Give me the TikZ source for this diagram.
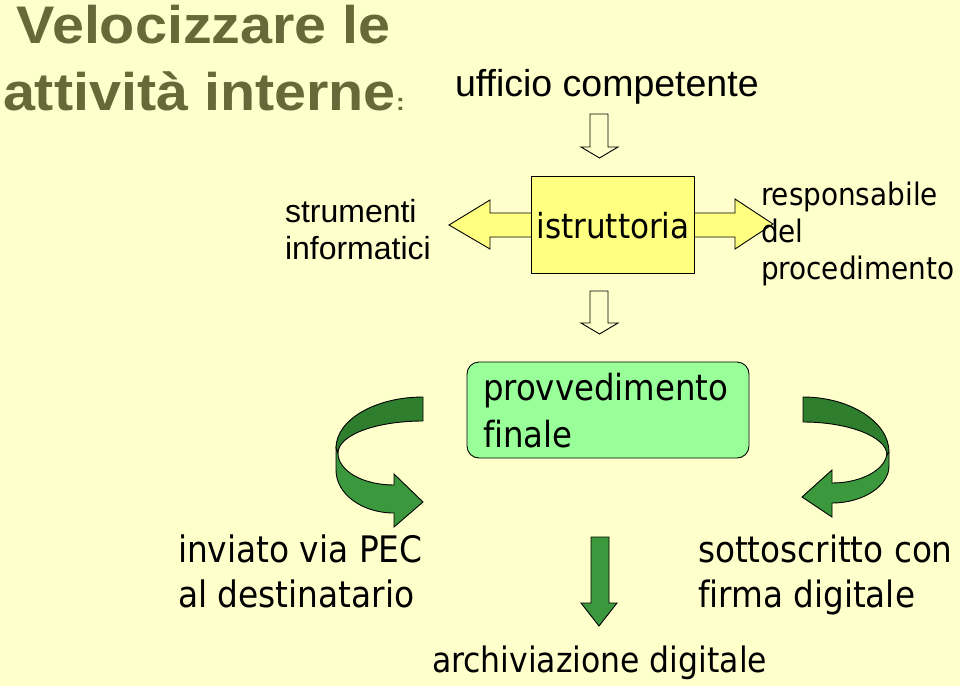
\documentclass[tikz,border=0pt]{standalone}
\usepackage{fontspec}
\setmainfont{Liberation Sans}
\newfontfamily\tah[Ligatures=NoCommon]{DejaVu Sans Condensed}
\definecolor{bg}{RGB}{255,255,204}
\definecolor{titlecol}{RGB}{104,104,56}
\definecolor{boxyellow}{RGB}{255,255,128}
\definecolor{boxgreen}{RGB}{153,255,153}
\definecolor{darkgr}{RGB}{46,126,46}
\definecolor{lightgr}{RGB}{60,152,60}
\newcommand\lns[2][l]{\begin{tabular}[t]{@{}#1@{}}#2\end{tabular}}
\tikzset{
  txt/.style={inner sep=0pt, outer sep=0pt, anchor=base west, text=black},
  hollow/.style={draw=black, line width=0.9pt, fill=bg, line join=miter},
  bandup/.style={draw=black, line width=0.9pt, fill=darkgr, line join=round},
  banddown/.style={draw=black, line width=0.9pt, fill=lightgr, line join=miter},
}
\begin{document}
\begin{tikzpicture}[x=1pt,y=-1pt]
\useasboundingbox (0,0) rectangle (960,686);
\fill[bg] (0,0) rectangle (960,686);

% title
\node[txt, text=titlecol] (title) at (3,43)
  {\scalebox{1}[0.92]{\fontsize{57.5}{73}\selectfont\bfseries\lns[c]{Velocizzare le\\attivit\`a interne{\fontsize{26}{26}\selectfont:}}}};

% ufficio competente
\node[txt] (uff) at (455,96) {\fontsize{37.5}{44}\selectfont ufficio competente};

% hollow arrows
\draw[hollow] (590,114) -- (608,114) -- (608,147) -- (618,147) -- (599.5,158) -- (581,147) -- (590,147) -- cycle;
\draw[hollow] (590,291) -- (608,291) -- (608,323) -- (618,323) -- (599.5,334) -- (581,323) -- (590,323) -- cycle;

% double arrow behind istruttoria
\draw[line width=0.9pt, fill=boxyellow, line join=miter]
  (449,225) -- (490,200) -- (490,213) -- (735,213) -- (735,199) -- (773,224)
  -- (735,249) -- (735,237) -- (490,237) -- (490,249) -- cycle;

% istruttoria box
\node[draw=black, line width=0.9pt, fill=boxyellow, minimum width=163pt, minimum height=97pt, inner sep=0pt] (istr) at (612.5,224.5) {};
\node[inner sep=0pt, anchor=base] (istrt) at (613,238) {\tah\fontsize{34.5}{40}\selectfont istruttoria};

% side texts
\node[txt] (strum) at (285,222) {\fontsize{32}{37}\selectfont\lns{strumenti\\informatici}};
\node[txt] (resp) at (761,205) {\tah\fontsize{31}{37}\selectfont\lns{responsabile\\del\\procedimento}};

% provvedimento finale
\node[draw=black, line width=0.9pt, fill=boxgreen, rounded corners=12pt, minimum width=282pt, minimum height=96pt, inner sep=0pt] (prov) at (608,410) {};
\node[txt] (provt) at (483,400) {\tah\fontsize{36}{47}\selectfont\lns{provvedimento\\finale}};

% left curved arrow
\draw[banddown] (336,448) -- (336,470) .. controls (336,494) and (362,513) .. (394,513)
  -- (394,527) -- (423,502) -- (394,474) -- (394,485)
  .. controls (363,485) and (338,471) .. (338,453) -- cycle;
\draw[bandup] (423,397) .. controls (375,397) and (336,420) .. (336,448) -- (338,453)
  .. controls (338,435) and (376,421) .. (423,421) -- cycle;

% right curved arrow
\draw[banddown] (889,452) -- (889,466) .. controls (889,486) and (863,503) .. (832,503)
  -- (832,517) -- (802,497) -- (832,470) -- (832,483)
  .. controls (862,483) and (887,469) .. (887,452) -- cycle;
\draw[bandup] (803,397) .. controls (850,397) and (889,422) .. (889,452) -- (887,455)
  .. controls (887,437) and (849,422) .. (803,422) -- cycle;

% straight green arrow
\draw[banddown] (591,537) -- (609,537) -- (609,603) -- (617,603) -- (599,626) -- (581,603) -- (591,603) -- cycle;

% bottom texts
\node[txt] (inv) at (178,562) {\tah\fontsize{36.5}{45}\selectfont\lns{inviato via PEC\\al destinatario}};
\node[txt] (sott) at (698,562) {\tah\fontsize{36.3}{45}\selectfont\lns{sottoscritto con\\firma digitale}};
\node[txt] (arch) at (432,672) {\tah\fontsize{35}{42}\selectfont archiviazione digitale};
\end{tikzpicture}
\end{document}
